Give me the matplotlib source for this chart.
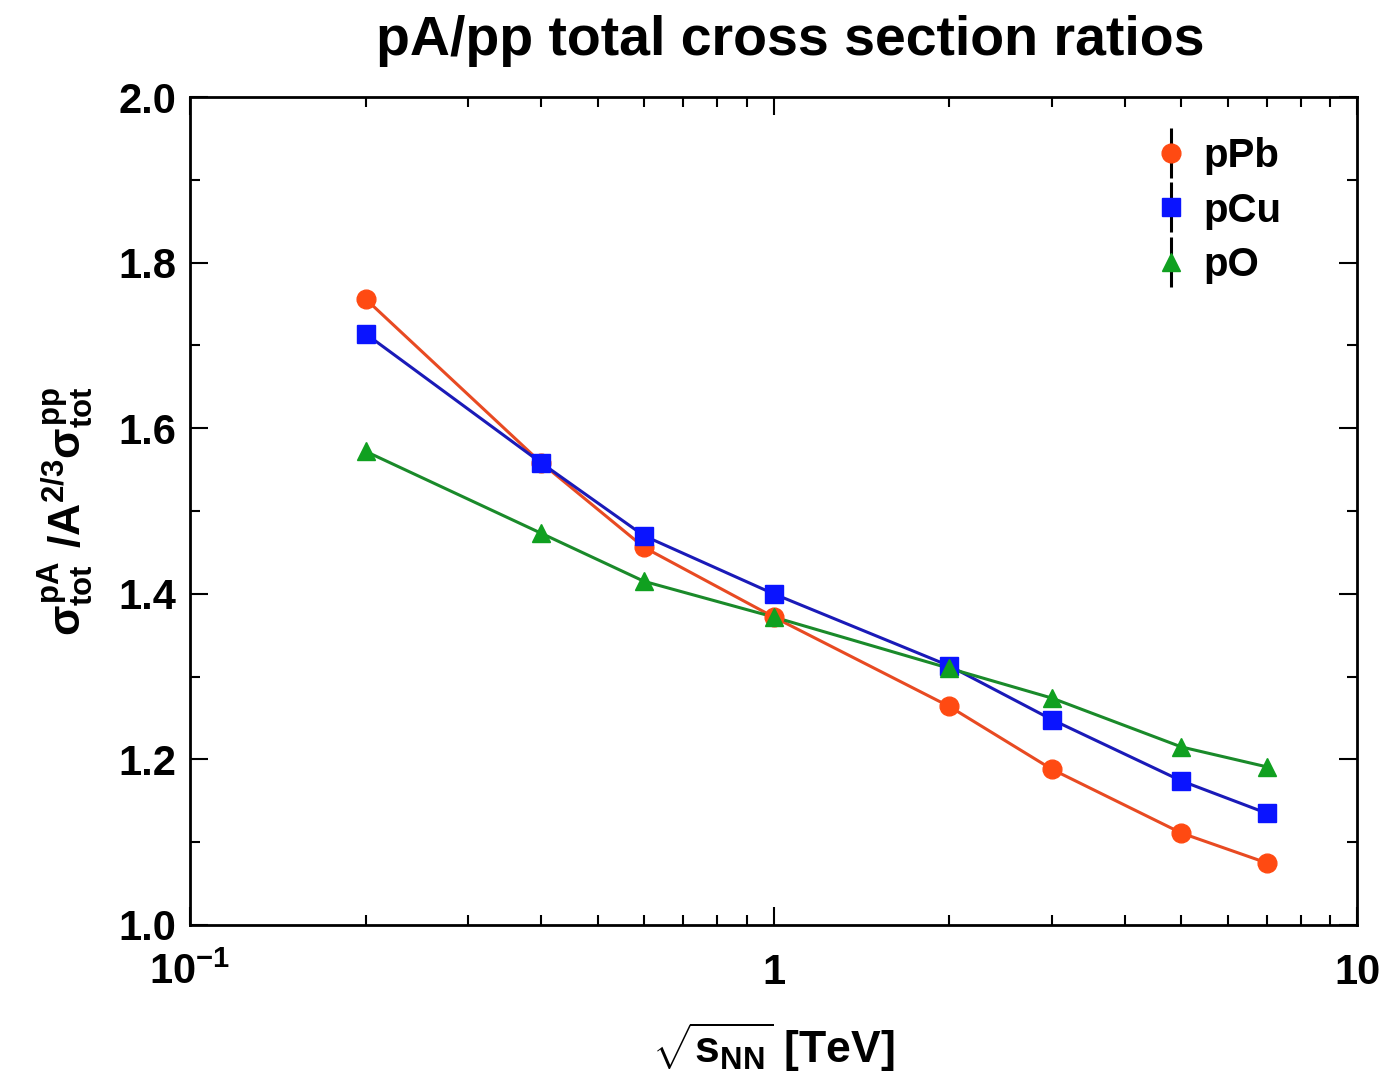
import matplotlib
matplotlib.use("Agg")
import matplotlib.pyplot as plt
from matplotlib.lines import Line2D
from matplotlib.ticker import MultipleLocator, LogLocator, FixedLocator, FixedFormatter

plt.rcParams['font.family'] = ['Liberation Sans', 'DejaVu Sans']
plt.rcParams['font.weight'] = 'bold'
plt.rcParams['mathtext.fontset'] = 'custom'
plt.rcParams['mathtext.rm'] = 'Liberation Sans:bold'
plt.rcParams['mathtext.bf'] = 'Liberation Sans:bold'
plt.rcParams['mathtext.it'] = 'Liberation Sans:bold'

# sqrt(s_NN) in TeV
energies = [0.2, 0.4, 0.6, 1.0, 2.0, 3.0, 5.0, 7.0]

ratio_pPb = [1.756, 1.558, 1.456, 1.372, 1.264, 1.188, 1.111, 1.075]
ratio_pCu = [1.714, 1.558, 1.470, 1.400, 1.313, 1.248, 1.174, 1.135]
ratio_pO = [1.572, 1.473, 1.415, 1.372, 1.310, 1.274, 1.215, 1.191]

series = [
    ("pPb", ratio_pPb, "o", "#ff4a12", "#e84a22", 13.5),
    ("pCu", ratio_pCu, "s", "#0a14ff", "#1a1ab8", 13.5),
    ("pO", ratio_pO, "^", "#10a020", "#1a8a2a", 13.5),
]

fig = plt.figure(figsize=(13.82, 10.84), dpi=100)
ax = fig.add_axes([0.1375, 0.1467, 0.8445, 0.7638])

handles = []
for name, vals, mk, mcol, lcol, ms in series:
    ax.plot(energies, vals, color=lcol, linewidth=2.2, zorder=2)
    ax.plot(energies, vals, linestyle='None', marker=mk, markersize=ms,
            markerfacecolor=mcol, markeredgecolor=mcol, zorder=3)
    bar = Line2D([], [], marker='|', color='black', markersize=36,
                 markeredgewidth=2.2, linestyle='None')
    dot = Line2D([], [], marker=mk, markersize=ms, markerfacecolor=mcol,
                 markeredgecolor=mcol, linestyle='None')
    handles.append((bar, dot))

ax.set_xscale('log')
ax.set_xlim(0.1, 10)
ax.set_ylim(1.0, 2.0)

ax.xaxis.set_major_locator(FixedLocator([0.1, 1, 10]))
ax.xaxis.set_major_formatter(FixedFormatter([r'$10^{-1}$', '1', '10']))
ax.xaxis.set_minor_locator(LogLocator(base=10, subs=range(2, 10)))
ax.xaxis.set_minor_formatter(FixedFormatter([]))
ax.yaxis.set_major_locator(MultipleLocator(0.2))
ax.yaxis.set_minor_locator(MultipleLocator(0.1))
ax.yaxis.set_major_formatter(plt.FormatStrFormatter('%.1f'))

ax.tick_params(which='both', direction='in', top=True, right=True,
               labelsize=30, width=1.5)
ax.tick_params(which='major', length=13)
ax.tick_params(which='minor', length=7)
ax.tick_params(axis='x', which='major', pad=20)
ax.tick_params(axis='y', which='major', pad=10)
for s in ax.spines.values():
    s.set_linewidth(2)
for lab in ax.get_xticklabels() + ax.get_yticklabels():
    lab.set_fontweight('bold')

ax.set_title("pA/pp total cross section ratios", fontsize=40,
             fontweight='bold', pad=30, x=0.514)
ax.set_xlabel(r'$\sqrt{\mathbf{s}_{\mathbf{NN}}}$ [TeV]', fontsize=32,
              fontweight='bold', labelpad=20)
ax.set_ylabel(r'$\sigma^{\mathbf{pA}}_{\mathbf{tot}}\ \mathbf{/A}^{\mathbf{2/3}}\sigma^{\mathbf{pp}}_{\mathbf{tot}}$',
              fontsize=32, labelpad=16)

ax.legend(handles, [s[0] for s in series], loc='upper left',
          bbox_to_anchor=(0.792, 0.995), frameon=False,
          handlelength=1.0, handletextpad=0.3, labelspacing=0.4,
          prop={'weight': 'bold', 'size': 29})

fig.savefig("out.png", dpi=100)
